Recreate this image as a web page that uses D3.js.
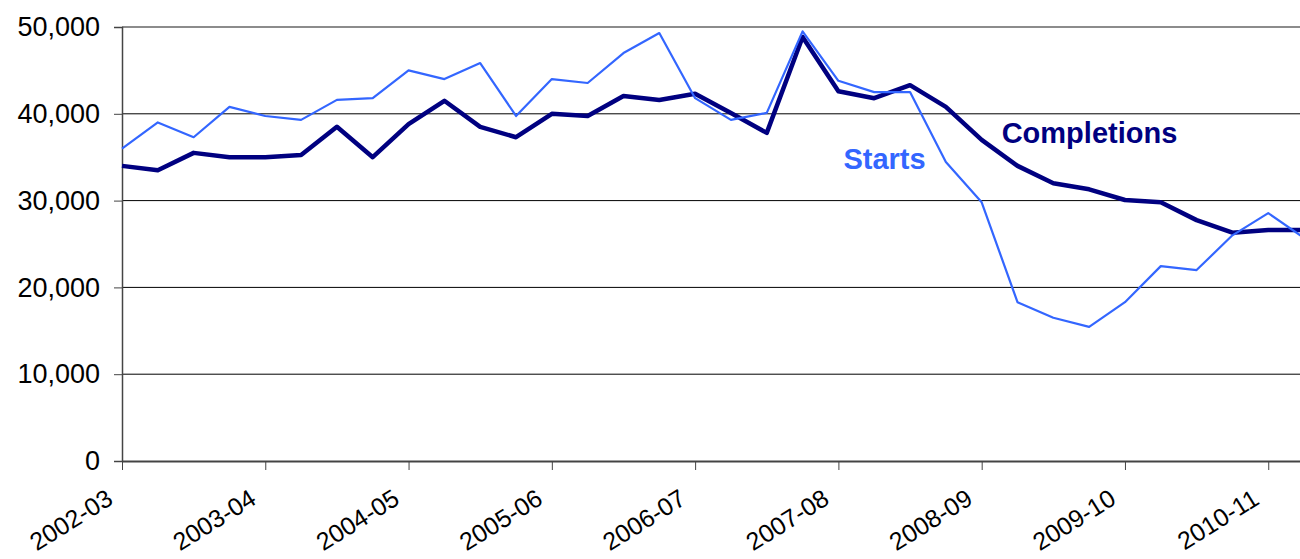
<!DOCTYPE html>
<html>
<head>
<meta charset="utf-8">
<script src="https://cdn.jsdelivr.net/npm/d3@7"></script>
<style>
  body { margin: 0; background: #fff; }
  svg { display: block; font-family: "Liberation Sans", Arial, sans-serif; }
</style>
</head>
<body>
<svg width="1300" height="559"></svg>
<script>
// Financial years shown on the axis (one label per year, at its first quarter)
const years = ["2002-03", "2003-04", "2004-05", "2005-06", "2006-07",
               "2007-08", "2008-09", "2009-10", "2010-11"];

// Quarterly values, starting 2002-03 Q1
const starts = [36000, 39000, 37300, 40800, 39750, 39300, 41600, 41800,
                45000, 44000, 45850, 39750, 44000, 43550, 47000, 49300,
                41800, 39300, 40100, 49500, 43800, 42500, 42500, 34450,
                29800, 18300, 16500, 15450, 18300, 22450, 22000, 26000,
                28550, 25700];

const completions = [34000, 33500, 35500, 35000, 35000, 35250, 38500, 35000,
                     38800, 41500, 38500, 37300, 40000, 39750, 42050, 41600,
                     42300, 40100, 37800, 48850, 42600, 41800, 43300, 40800,
                     37000, 34000, 32000, 31300, 30070, 29800, 27750, 26300,
                     26600, 26600];

const yTicks = [0, 10000, 20000, 30000, 40000, 50000];

// Every quarter of every year (the axis runs on past the last point)
const quarters = years.flatMap(y => ["Q1", "Q2", "Q3", "Q4"].map(q => y + " " + q));

const svg = d3.select("svg");
const width = +svg.attr("width");
const margin = { top: 27, left: 122 };
const innerHeight = 434;
const step = 35.82;

const g = svg.append("g")
    .attr("transform", `translate(${margin.left}, ${margin.top})`);

// Scales
const x = d3.scalePoint()
    .domain(quarters)
    .range([0, step * (quarters.length - 1)]);

const y = d3.scaleLinear()
    .domain([0, 50000])
    .range([innerHeight, 0]);

// Gridlines
g.append("g")
    .selectAll("line")
    .data(yTicks.filter(d => d > 0 && d < 50000))
    .join("line")
    .attr("x1", 0)
    .attr("x2", width - margin.left)
    .attr("y1", d => y(d))
    .attr("y2", d => y(d))
    .attr("stroke", "#000")
    .attr("stroke-width", 1);

// top border of the plot area
g.append("line")
    .attr("x1", 0)
    .attr("x2", width - margin.left)
    .attr("y1", y(50000))
    .attr("y2", y(50000))
    .attr("stroke", "#8c8c8c")
    .attr("stroke-width", 2);

// Axes
const yAxis = d3.axisLeft(y)
    .tickValues(yTicks)
    .tickFormat(d3.format(","))
    .tickSize(8)
    .tickPadding(14);

const yg = g.append("g").call(yAxis);
yg.select(".domain").attr("stroke", "#444").attr("stroke-width", 1.5);
yg.selectAll(".tick line").attr("stroke", "#444");
yg.selectAll(".tick text")
    .attr("font-size", 27)
    .attr("fill", "#000");

const xAxis = d3.axisBottom(x)
    .tickValues(years.map(y => y + " Q1"))
    .tickFormat(d => d.slice(0, 7))
    .tickSize(9)
    .tickSizeOuter(0);

const xg = g.append("g")
    .attr("transform", `translate(0,${innerHeight})`)
    .call(xAxis);
xg.select(".domain").attr("stroke", "#444").attr("stroke-width", 2);
xg.selectAll(".tick line").attr("stroke", "#444");
xg.selectAll(".tick text")
    .attr("font-size", 25)
    .attr("fill", "#000")
    .attr("text-anchor", "end")
    .attr("y", 0)
    .attr("dy", 0)
    .attr("transform", "translate(-8, 42) rotate(-32)");

// Lines
const line = d3.line()
    .x((d, i) => x(quarters[i]))
    .y(d => y(d));

g.append("path")
    .datum(completions)
    .attr("fill", "none")
    .attr("stroke", "#000080")
    .attr("stroke-width", 4.5)
    .attr("stroke-linejoin", "round")
    .attr("d", line);

g.append("path")
    .datum(starts)
    .attr("fill", "none")
    .attr("stroke", "#3366ff")
    .attr("stroke-width", 2.2)
    .attr("stroke-linejoin", "round")
    .attr("d", line);

// Series labels
g.append("text")
    .attr("x", x(quarters[24]) + 20)
    .attr("y", y(36600))
    .attr("font-size", 29)
    .attr("font-weight", "bold")
    .attr("fill", "#000080")
    .text("Completions");

g.append("text")
    .attr("x", x(quarters[20]) + 5)
    .attr("y", y(33600))
    .attr("font-size", 29)
    .attr("font-weight", "bold")
    .attr("fill", "#3366ff")
    .text("Starts");
</script>
</body>
</html>
